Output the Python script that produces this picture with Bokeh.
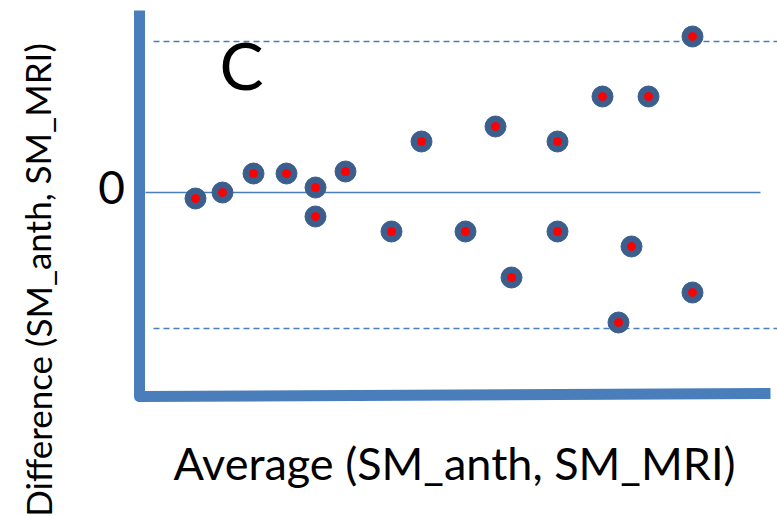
from bokeh.plotting import figure
from bokeh.models import Range1d, Label, ColumnDataSource
from bokeh.embed import file_html
from bokeh.resources import INLINE

# Bland-Altman style data (arbitrary units)
average = [5.0, 7.7, 10.8, 14.1, 17.0, 17.0, 20.0, 24.6, 27.6, 32.0,
           35.0, 36.6, 41.2, 41.2, 45.7, 47.3, 48.6, 50.3, 54.7, 54.7]
difference = [-0.6, 0.0, 1.9, 1.9, 0.5, -2.4, 2.1, -3.9, 5.1, -3.9,
              6.6, -8.5, 5.1, -3.9, 9.6, -13.0, -5.4, 9.6, 15.6, -10.0]
upper_loa = 15.1
lower_loa = -13.6
mean_diff = 0.0
x_label = "Average (SM_anth, SM_MRI)"
y_label = "Difference  (SM_anth, SM_MRI)"
panel_label = "C"
zero_label = "0"

FONT = "Lato"
AX = "#4a7ebb"

p = figure(width=777, height=516, output_backend="svg", toolbar_location=None,
           x_range=Range1d(-14.5, 63.2), y_range=Range1d(-32.4, 19.2),
           min_border=0, outline_line_color=None)
p.axis.visible = False
p.grid.visible = False

# reference lines
p.segment(x0=[0.0], y0=[mean_diff], x1=[61.5], y1=[mean_diff], line_color=AX, line_width=1.5)
p.segment(x0=[0.8, 0.8], y0=[upper_loa, lower_loa], x1=[63.2, 63.2], y1=[upper_loa, lower_loa],
          line_color=AX, line_width=1.5, line_dash="6 4")

# axes (thick)
p.line(x=[-0.6, -0.6, 62.5], y=[18.2, -20.4, -20.1], line_color=AX, line_width=11,
       line_join="round")

src = ColumnDataSource(dict(x=average, y=difference))
p.scatter("x", "y", source=src, size=21, fill_color="#3b5e8c", line_color="#3b5e8c")
p.scatter("x", "y", source=src, size=8, fill_color="#ff0000", line_color="#ff0000")

p.add_layout(Label(x=9.6, y=12.8, text=panel_label, text_font=FONT, text_font_size="66px",
                   text_align="center", text_baseline="middle", text_color="black"))
p.add_layout(Label(x=-3.4, y=0.5, text=zero_label, text_font=FONT, text_font_size="46px",
                   text_align="center", text_baseline="middle", text_color="black"))
p.add_layout(Label(x=30.9, y=-27.0, text=x_label, text_font=FONT, text_font_size="45px",
                   text_align="center", text_baseline="middle", text_color="black"))
p.add_layout(Label(x=-10.8, y=-8.3, text=y_label, text_font=FONT, text_font_size="35px",
                   angle=1.5708, text_align="center", text_baseline="middle", text_color="black"))

open("out.html", "w").write(file_html(p, INLINE))
